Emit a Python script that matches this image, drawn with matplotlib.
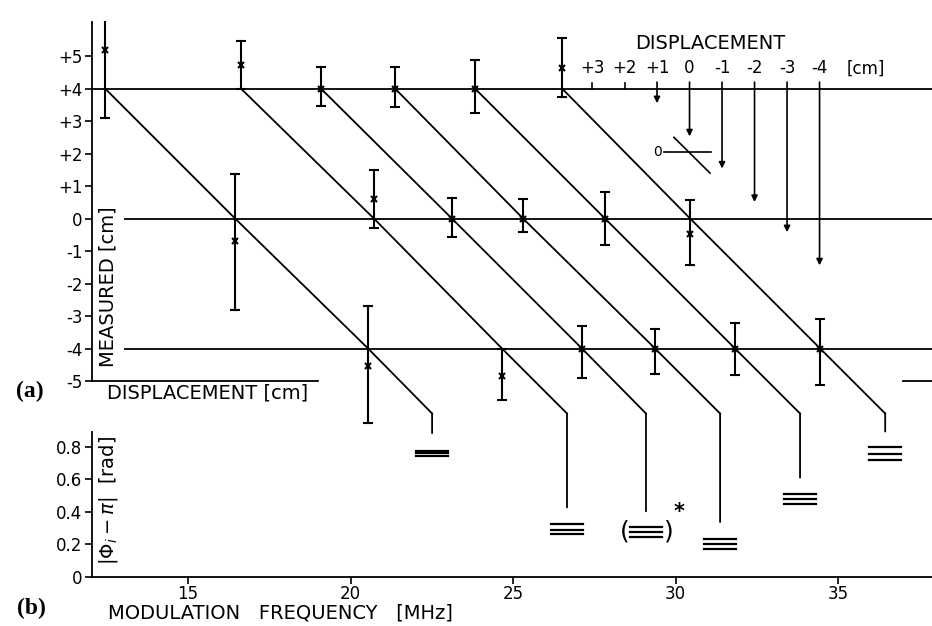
import matplotlib
matplotlib.use("Agg")
import matplotlib.pyplot as plt
from matplotlib.patches import ConnectionPatch

plt.rcParams['font.family'] = ['DejaVu Sans']

# (a) measured position [cm] for each frequency run, on the +4 / 0 / -4 cm lines
freq_p4 = [12.45, 16.63, 19.09, 21.37, 23.83, 26.51]
mark_p4 = [5.2, 4.73, 4.0, 4.0, 4.0, 4.63]
lo_p4 = [3.08, 4.0, 3.47, 3.43, 3.24, 3.74]
hi_p4 = [6.1, 5.46, 4.67, 4.65, 4.87, 5.55]

freq_0 = [16.45, 20.72, 23.12, 25.31, 27.83, 30.45]
mark_0 = [-0.69, 0.59, 0.0, 0.0, 0.0, -0.48]
lo_0 = [-2.82, -0.3, -0.57, -0.4, -0.8, -1.44]
hi_0 = [1.37, 1.49, 0.63, 0.61, 0.83, 0.56]

freq_m4 = [20.54, 24.66, 27.12, 29.37, 31.83, 34.45]
mark_m4 = [-4.54, -4.86, -4.0, -4.0, -4.0, -4.0]
lo_m4 = [-6.3, -5.57, -4.91, -4.78, -4.8, -5.13]
hi_m4 = [-2.7, -4.0, -3.31, -3.4, -3.2, -3.1]

# leader lines down to panel (b)
freq_bend = [22.51, 26.66, 29.09, 31.37, 33.83, 36.45]
bend_level = -6.0
leader_end = [0.885, 0.428, 0.404, 0.338, 0.611, 0.895]

# (b) |phi_i - pi| [rad], three values per run
phase_hi = [0.778, 0.327, 0.308, 0.232, 0.511, 0.797]
phase_mid = [0.762, 0.292, 0.277, 0.201, 0.480, 0.754]
phase_lo = [0.742, 0.262, 0.246, 0.174, 0.449, 0.717]
bracketed = [False, False, True, False, False, False]

# displacement scale drawn on the +4 line
disp_ticks = [3, 2, 1, 0, -1, -2, -3, -4]
disp_zero_freq = 30.43
arrow_end = [None, None, 3.55, 2.53, 1.54, 0.51, -0.42, -1.44]

yticks_a = [5, 4, 3, 2, 1, 0, -1, -2, -3, -4, -5]
ylabels_a = ['+5', '+4', '+3', '+2', '+1', '0', '-1', '-2', '-3', '-4', '-5']
yticks_b = [0, 0.2, 0.4, 0.6, 0.8]
ylabels_b = ['0', '0.2', '0.4', '0.6', '0.8']
xticks_b = [15, 20, 25, 30, 35]

W, H = 932, 626
fig = plt.figure(figsize=(W / 100, H / 100), dpi=100)
lw = 1.3
xlim = (12.046, 37.89)

ax = fig.add_axes([92 / W, 245 / H, 840 / W, 359 / H])
ax.set_xlim(*xlim)
ax.set_ylim(-5, 6.05)
for s in ['top', 'right', 'bottom']:
    ax.spines[s].set_visible(False)
ax.spines['left'].set_linewidth(lw)
ax.set_xticks([])
ax.set_yticks(yticks_a)
ax.set_yticklabels(ylabels_a)
ax.tick_params(axis='y', direction='out', length=5, width=1.2, labelsize=12, pad=2)

# partial bottom frame
ax.plot([xlim[0], 19.0], [-5, -5], color='k', lw=lw, clip_on=False)
ax.plot([37.0, xlim[1]], [-5, -5], color='k', lw=lw, clip_on=False)

# horizontal reference lines
ax.plot([xlim[0], xlim[1]], [4, 4], color='k', lw=lw)
ax.plot([13.06, xlim[1]], [0, 0], color='k', lw=lw)
ax.plot([13.06, xlim[1]], [-4, -4], color='k', lw=lw)

ax2 = fig.add_axes([92 / W, 49 / H, 840 / W, 145 / H])
ax2.set_xlim(*xlim)
ax2.set_ylim(0, 0.892)
for s in ['top', 'right']:
    ax2.spines[s].set_visible(False)
for s in ['left', 'bottom']:
    ax2.spines[s].set_linewidth(lw)
ax2.set_yticks(yticks_b)
ax2.set_yticklabels(ylabels_b)
ax2.set_xticks(xticks_b)
ax2.tick_params(direction='out', length=5, width=1.2, labelsize=12, pad=2)
ax2.tick_params(axis='x', pad=0.5)

# diagonals and leaders
for i in range(len(freq_p4)):
    ax.plot([freq_p4[i], freq_0[i], freq_m4[i], freq_bend[i]],
            [4, 0, -4, bend_level], color='k', lw=lw, clip_on=False)
    con = ConnectionPatch(xyA=(freq_bend[i], bend_level), coordsA=ax.transData,
                          xyB=(freq_bend[i], leader_end[i]), coordsB=ax2.transData,
                          color='k', lw=lw)
    fig.add_artist(con)
    for v in (phase_hi[i], phase_mid[i], phase_lo[i]):
        ax2.plot([freq_bend[i] - 0.5, freq_bend[i] + 0.5], [v, v], color='k', lw=1.6)
    if bracketed[i]:
        ymid = phase_mid[i]
        ax2.text(freq_bend[i] - 0.66, ymid, '(', fontsize=18, ha='center', va='center')
        ax2.text(freq_bend[i] + 0.7, ymid, ')', fontsize=18, ha='center', va='center')
        ax2.text(freq_bend[i] + 1.02, ymid + 0.12, '*', fontsize=15, fontweight='bold',
                 ha='center', va='center')

# error bars and markers
top = ax.get_ylim()[1]
for f, m, lo, hi in [(freq_p4, mark_p4, lo_p4, hi_p4),
                     (freq_0, mark_0, lo_0, hi_0),
                     (freq_m4, mark_m4, lo_m4, hi_m4)]:
    for j in range(len(f)):
        ax.plot([f[j], f[j]], [lo[j], min(hi[j], top)], color='k', lw=1.5, clip_on=False)
        caps = [lo[j]] + ([hi[j]] if hi[j] < top else [])
        ax.plot([f[j]] * len(caps), caps, linestyle='none', marker='_', ms=7,
                mew=1.5, color='k', clip_on=False)
        ax.plot(f[j], m[j], linestyle='none', marker='x', ms=4, mew=1.5, color='k')

# displacement scale on the +4 line
for d, end in zip(disp_ticks, arrow_end):
    fx = disp_zero_freq - d
    ax.text(fx, 4.62, f'{d:+d}' if d != 0 else '0', fontsize=12, ha='center', va='center')
    if end is None:
        ax.plot([fx, fx], [4, 4.18], color='k', lw=1.2)
    else:
        ax.annotate('', xy=(fx, end), xytext=(fx, 4.2),
                    arrowprops=dict(arrowstyle='-|>', color='k', lw=1.2,
                                    mutation_scale=9, shrinkA=0, shrinkB=0))
ax.text(35.86, 4.62, '[cm]', fontsize=12, ha='center', va='center')
ax.text(31.06, 5.38, 'DISPLACEMENT', fontsize=14, ha='center', va='center')

# small sketch: zero line crossed by a displacement line
ax.plot([29.63, 31.08], [2.05, 2.05], color='k', lw=1.2)
ax.plot([29.95, 31.06], [2.5, 1.4], color='k', lw=1.2)
ax.text(29.43, 2.05, '0', fontsize=10, ha='center', va='center')

# labels
ax.text(12.54, -2.11, 'MEASURED [cm]', rotation=90, fontsize=14, ha='center', va='center')
fig.text(107 / W, 1 - 393 / H, 'DISPLACEMENT [cm]', fontsize=14, ha='left', va='center')
ax2.text(12.54, 0.47, r'$|\Phi_i - \pi|$  [rad]', rotation=90, fontsize=14,
         ha='center', va='center')
fig.text(108 / W, 1 - 613 / H, 'MODULATION   FREQUENCY   [MHz]', fontsize=14,
         ha='left', va='center')
fig.text(30 / W, 1 - 391 / H, '(a)', fontsize=17, fontweight='bold',
         family='Liberation Serif', ha='center', va='center')
fig.text(31 / W, 1 - 608 / H, '(b)', fontsize=17, fontweight='bold',
         family='Liberation Serif', ha='center', va='center')

fig.savefig('out.png', dpi=100)
